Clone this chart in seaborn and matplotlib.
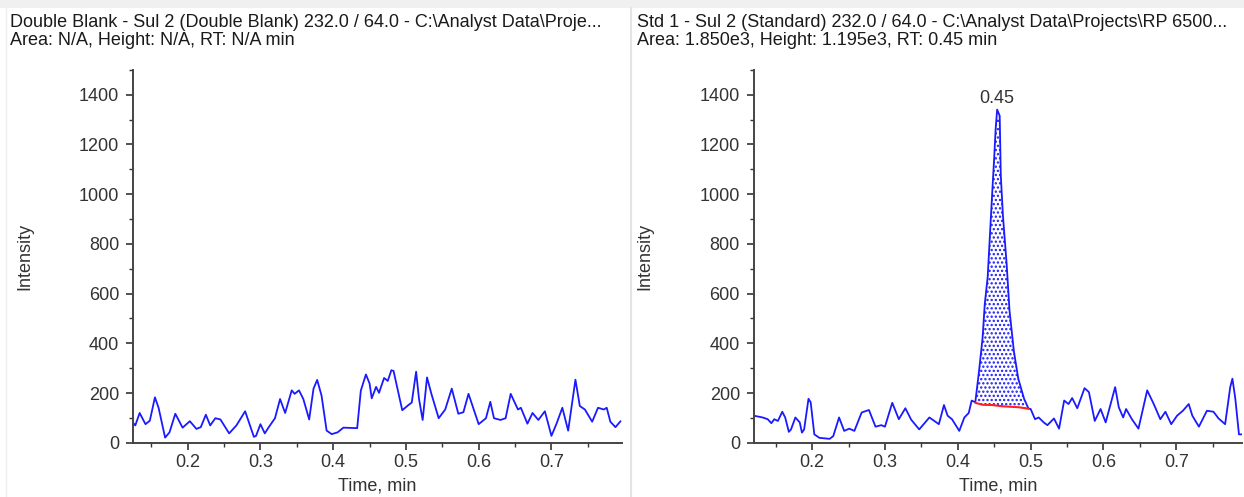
import numpy as np
import pandas as pd
import seaborn as sns
import matplotlib.pyplot as plt
from matplotlib.ticker import MultipleLocator
from matplotlib.lines import Line2D
from matplotlib.patches import Rectangle

# Double blank trace (time in min, intensity)
blank_t = [0.124, 0.128, 0.134, 0.142, 0.148, 0.155, 0.160, 0.169, 0.175, 0.183,
           0.193, 0.203, 0.212, 0.218, 0.225, 0.231, 0.238, 0.245, 0.257, 0.267,
           0.279, 0.291, 0.294, 0.300, 0.306, 0.311, 0.320, 0.327, 0.334, 0.343,
           0.347, 0.353, 0.359, 0.367, 0.373, 0.378, 0.384, 0.391, 0.398, 0.406,
           0.414, 0.433, 0.438, 0.445, 0.450, 0.453, 0.459, 0.463, 0.470, 0.475,
           0.480, 0.483, 0.491, 0.495, 0.503, 0.508, 0.514, 0.518, 0.523, 0.529,
           0.535, 0.545, 0.554, 0.563, 0.572, 0.579, 0.586, 0.600, 0.610, 0.616,
           0.621, 0.630, 0.637, 0.644, 0.654, 0.658, 0.667, 0.674, 0.682, 0.691,
           0.700, 0.707, 0.715, 0.723, 0.733, 0.739, 0.746, 0.756, 0.764, 0.772,
           0.776, 0.781, 0.788, 0.795]
blank_i = [84, 70, 120, 75, 89, 183, 141, 21, 42, 117,
           61, 87, 56, 63, 113, 70, 99, 94, 38, 70,
           127, 24, 28, 75, 38, 61, 99, 176, 120, 211,
           197, 211, 176, 94, 218, 253, 190, 49, 35, 42,
           61, 59, 210, 275, 239, 179, 225, 201, 261, 249,
           292, 289, 183, 131, 151, 162, 286, 176, 92, 263,
           197, 99, 134, 218, 117, 123, 197, 75, 99, 165,
           99, 92, 99, 197, 134, 141, 77, 120, 92, 127,
           28, 77, 141, 49, 254, 148, 134, 85, 141, 134,
           141, 85, 63, 87]

# Standard trace
std_t = [0.120, 0.132, 0.139, 0.144, 0.148, 0.153, 0.159, 0.163, 0.168, 0.171,
         0.177, 0.183, 0.186, 0.189, 0.195, 0.198, 0.203, 0.210, 0.224, 0.229,
         0.237, 0.244, 0.251, 0.258, 0.268, 0.278, 0.287, 0.295, 0.300, 0.310,
         0.319, 0.328, 0.336, 0.347, 0.361, 0.374, 0.381, 0.386, 0.392, 0.402,
         0.409, 0.415, 0.419, 0.424, 0.429, 0.434, 0.437, 0.441, 0.444, 0.447,
         0.450, 0.452, 0.454, 0.4575, 0.459, 0.462, 0.467, 0.471, 0.477, 0.483,
         0.491, 0.497, 0.500, 0.506, 0.511, 0.518, 0.523, 0.532, 0.539, 0.546,
         0.552, 0.557, 0.564, 0.574, 0.580, 0.588, 0.596, 0.603, 0.616, 0.621,
         0.627, 0.631, 0.639, 0.648, 0.660, 0.669, 0.678, 0.685, 0.693, 0.701,
         0.709, 0.717, 0.722, 0.731, 0.742, 0.751, 0.758, 0.767, 0.774, 0.777,
         0.781, 0.786, 0.790]
std_i = [109, 102, 95, 79, 95, 88, 125, 102, 44, 54,
         102, 82, 41, 54, 177, 163, 34, 20, 16, 27,
         102, 48, 57, 48, 122, 132, 65, 71, 65, 161,
         95, 139, 93, 54, 102, 75, 152, 109, 95, 48,
         102, 120, 170, 163, 285, 422, 558, 667, 830, 993,
         1150, 1265, 1340, 1315, 1075, 911, 721, 531, 368, 258,
         177, 138, 136, 95, 102, 82, 71, 98, 57, 170,
         156, 180, 139, 220, 204, 88, 136, 82, 224, 143,
         102, 136, 95, 57, 211, 156, 95, 125, 75, 109,
         129, 156, 109, 65, 129, 125, 98, 75, 224, 258,
         177, 34, 34]

# integration baseline of the peak
base_t = [0.424, 0.434, 0.447, 0.461, 0.484, 0.497]
base_i = [161, 153, 152, 147, 143, 137]

titles = ["Double Blank - Sul 2 (Double Blank) 232.0 / 64.0 - C:\\Analyst Data\\Proje...",
          "Std 1 - Sul 2 (Standard) 232.0 / 64.0 - C:\\Analyst Data\\Projects\\RP 6500..."]
subtitles = ["Area: N/A, Height: N/A, RT: N/A min",
             "Area: 1.850e3, Height: 1.195e3, RT: 0.45 min"]
peak_label = "0.45"

sns.set_style("ticks")
plt.rcParams['font.family'] = ['Liberation Sans', 'DejaVu Sans']
plt.rcParams['hatch.linewidth'] = 1.1

blue = '#1a1aff'
dark = '#333333'

fig = plt.figure(figsize=(12.44, 4.97), dpi=100)
ax1 = fig.add_axes([0.107, 0.109, 0.393, 0.7505])
ax2 = fig.add_axes([0.606, 0.109, 0.3923, 0.7505])

blank = pd.DataFrame({'t': blank_t, 'i': blank_i})
std = pd.DataFrame({'t': std_t, 'i': std_i})

sns.lineplot(data=blank, x='t', y='i', ax=ax1, color=blue, lw=1.3, sort=False, estimator=None)
sns.lineplot(data=std, x='t', y='i', ax=ax2, color=blue, lw=1.3, sort=False, estimator=None)

# shaded integrated peak
seg = std[(std.t >= base_t[0]) & (std.t <= base_t[-1])]
ax2.fill_between(seg.t, seg.i, np.interp(seg.t, base_t, base_i),
                 facecolor='none', edgecolor=blue, hatch='....', linewidth=0)
sns.lineplot(x=base_t, y=base_i, ax=ax2, color='#ff2020', lw=1.5, sort=False, estimator=None)

top = std.loc[std.i.idxmax()]
ax2.annotate(peak_label, (top.t, top.i), xytext=(0, 2), textcoords='offset points',
             ha='center', va='bottom', fontsize=13, color=dark)

for ax, xl in [(ax1, (0.125, 0.797)), (ax2, (0.12, 0.79))]:
    ax.set_xlim(*xl)
    ax.set_ylim(0, 1500)
    ax.xaxis.set_major_locator(MultipleLocator(0.1))
    ax.xaxis.set_minor_locator(MultipleLocator(0.05))
    ax.yaxis.set_major_locator(MultipleLocator(200))
    ax.yaxis.set_minor_locator(MultipleLocator(100))
    ax.set_yticks([0, 200, 400, 600, 800, 1000, 1200, 1400])
    ax.xaxis.set_major_formatter(plt.FuncFormatter(lambda v, p: f"{v:.1f}"))
    ax.tick_params(which='major', length=5, width=1.2, colors=dark, labelsize=13, pad=3)
    ax.tick_params(which='minor', length=3, width=1.0, colors=dark)
    ax.tick_params(axis='y', pad=5)
    sns.despine(ax=ax)
    for s in ['left', 'bottom']:
        ax.spines[s].set_color('#444444')
        ax.spines[s].set_linewidth(1.4)
    ax.set_xlabel("Time, min", fontsize=13, color=dark, labelpad=5)
    ax.set_ylabel("Intensity", fontsize=13, color=dark, labelpad=33)

# window frame look
fig.add_artist(Rectangle((0, 1 - 8 / 497), 1, 8 / 497, transform=fig.transFigure,
                         facecolor='#f0f0f0', edgecolor='none'))
fig.add_artist(Line2D([631 / 1244] * 2, [0, 1 - 8 / 497], transform=fig.transFigure,
                      color='#e4e4e4', lw=1.5))
fig.add_artist(Line2D([6 / 1244] * 2, [0, 1 - 8 / 497], transform=fig.transFigure,
                      color='#ededed', lw=1.0))

for x0, t1, t2 in [(10, titles[0], subtitles[0]), (637, titles[1], subtitles[1])]:
    fig.text(x0 / 1244, 1 - 14 / 497, t1, fontsize=13, color='#1a1a1a', va='top')
    fig.text(x0 / 1244, 1 - 32 / 497, t2, fontsize=13, color='#1a1a1a', va='top')

fig.savefig('out.png', dpi=100, facecolor='white')
